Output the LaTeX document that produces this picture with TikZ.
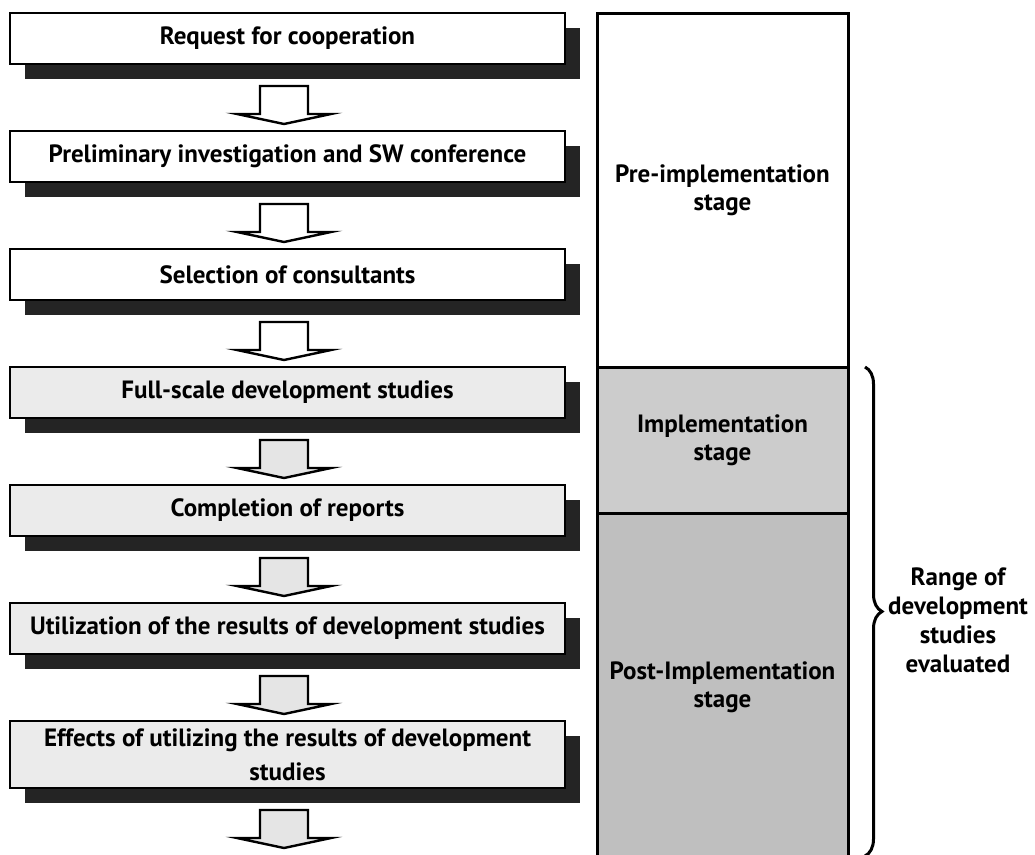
\documentclass[tikz,border=0pt]{standalone}
\usepackage{fontspec}
\setmainfont{PT Sans}
\usetikzlibrary{shadows,decorations.pathreplacing,calc}
\tikzset{
  stepbox/.style={draw, line width=2pt, fill=white, minimum width=555pt, minimum height=51pt,
    inner sep=0pt, outer sep=0pt, align=center,
    drop shadow={shadow xshift=15pt, shadow yshift=-15pt, fill=black!86, opacity=1}},
  stepgrey/.style={stepbox, fill=black!8},
  stagebox/.style={draw, line width=3pt, minimum width=251pt, inner sep=0pt, outer sep=0pt, align=center},
  blockarr/.style={draw, line width=2.4pt, line join=miter, fill=#1},
  blockarr/.default=white,
  rangebrace/.style={draw, line width=3pt, decorate, decoration={brace, amplitude=17pt}}
}
\newcommand{\blockarrow}[3][white]{%
  \path let \p1=(#2), \p2=(#3) in
    [blockarr=#1] (\x1-27.5pt,\y1-22pt) -- (\x1+20.5pt,\y1-22pt) -- (\x1+20.5pt,\y2+17pt)
    -- (\x1+43.5pt,\y2+17pt) -- (\x1-3.5pt,\y2+7pt) -- (\x1-50.5pt,\y2+17pt)
    -- (\x1-27.5pt,\y2+17pt) -- cycle;}
\begin{document}
\begin{tikzpicture}[x=1pt,y=-1pt,font=\fontsize{25}{28}\selectfont\bfseries]
\useasboundingbox (0,0) rectangle (1035,854);
\fill[white] (0,0) rectangle (1035,854);
\clip (0,0) rectangle (1035,854);
% process boxes
\node[stepbox]  (b1) at (287.5,38.5)  {Request for cooperation};
\node[stepbox]  (b2) at (287.5,156.5) {Preliminary investigation and SW conference};
\node[stepbox]  (b3) at (287.5,274.5) {Selection of consultants};
\node[stepgrey] (b4) at (287.5,392.5) {Full-scale development studies};
\node[stepgrey] (b5) at (287.5,510.5) {Completion of reports};
\node[stepgrey] (b6) at (287.5,628.5) {Utilization of the results of development studies};
\node[stepgrey, minimum height=67pt, font=\fontsize{25}{34}\selectfont\bfseries] (b7) at (287.5,754.5)
  {Effects of utilizing the results of development\\studies};
\coordinate (end) at (287.5,855);
% block arrows
\blockarrow{b1.south}{b2.north}
\blockarrow{b2.south}{b3.north}
\blockarrow{b3.south}{b4.north}
\blockarrow[black!10]{b4.south}{b5.north}
\blockarrow[black!10]{b5.south}{b6.north}
\blockarrow[black!10]{b6.south}{b7.north}
\blockarrow[black!10]{b7.south}{end}
% stages
\node[stagebox, fill=white, minimum height=354pt] (pre) at (722.5,190) {Pre-implementation\\stage};
\node[stagebox, fill=black!20, minimum height=146pt] (impl) at (722.5,440) {Implementation\\stage};
\node[stagebox, fill=black!25, minimum height=349pt] (post) at (722.5,687.5) {Post-Implementation\\stage};
\coordinate (bracetop) at ($(impl.north east)+(17,0)$);
\coordinate (bracebot) at (865,856);
\draw[rangebrace] (bracetop) -- (bracebot);
\node[align=center, font=\fontsize{25}{29}\selectfont\bfseries] (range) at (958,620)
  {Range of\\development\\studies\\evaluated};
\end{tikzpicture}
\end{document}
